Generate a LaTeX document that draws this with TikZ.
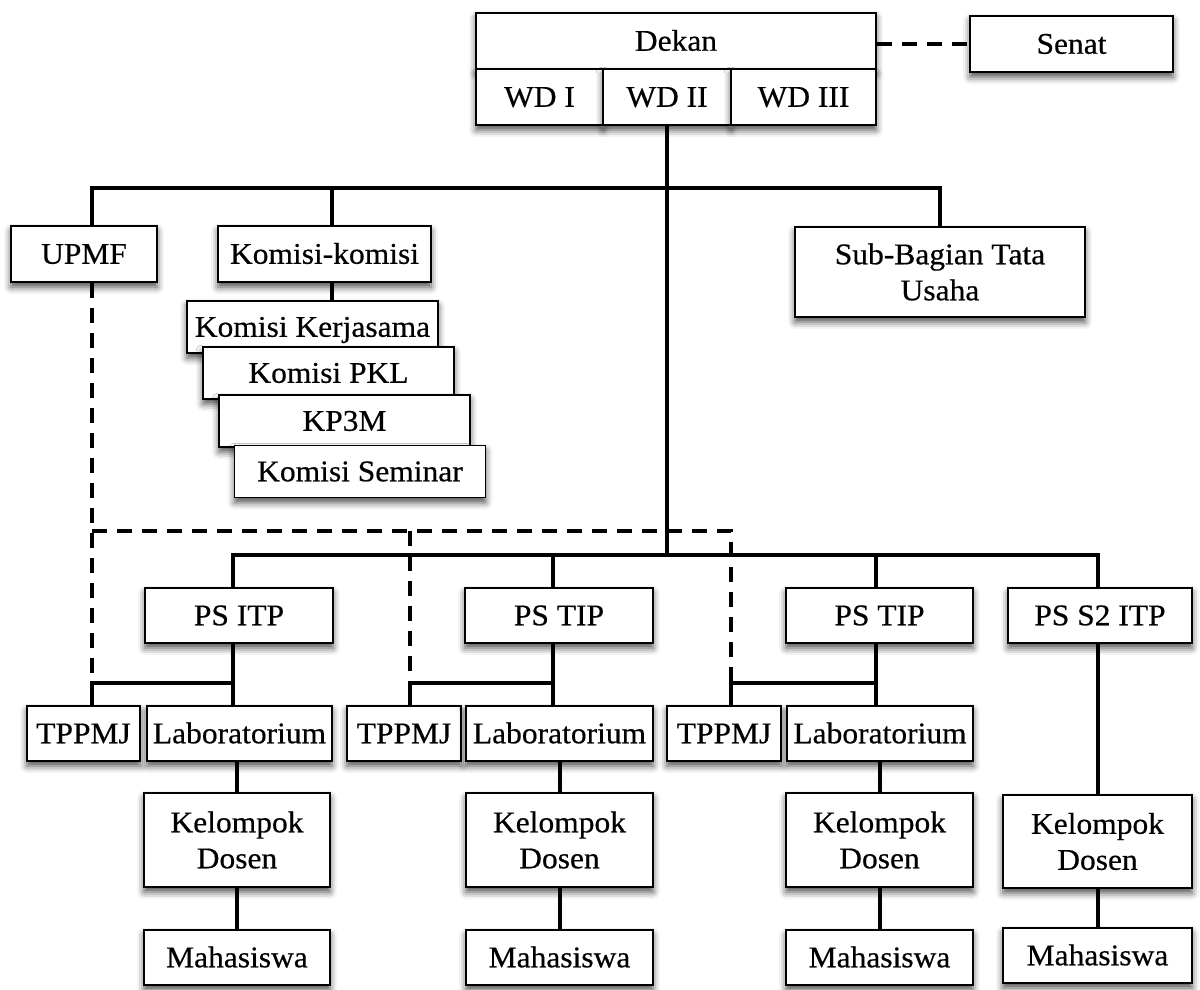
\documentclass[tikz,border=0pt]{standalone}
\usepackage{fontspec}
\setmainfont{Liberation Serif}[FakeStretch=1.05,FakeBold=0.5]
\usetikzlibrary{shadows.blur}
\begin{document}
\begin{tikzpicture}[x=1pt,y=-1pt,
  box/.style={draw, line width=1.8pt, fill=white, inner sep=0pt,
    blur shadow={shadow xshift=0pt, shadow yshift=-5pt, shadow blur radius=7pt, shadow opacity=70},
    font=\fontsize{30}{36}\selectfont, align=center},
  one/.style={text height=19.5pt, text depth=0pt},
  conn/.style={line width=4pt, line join=miter},
  dsh/.style={line width=4pt, dash pattern=on 15pt off 10pt},
]
\useasboundingbox (0,0) rectangle (1200,990);

% top
\node[box,one,minimum width=400pt,minimum height=56pt] (dekan) at (676,41) {Dekan};
\node[box,one,minimum width=127pt,minimum height=56pt] (wd1) at (539.5,97) {WD I};
\node[box,one,minimum width=128pt,minimum height=56pt] (wd2) at (667,97) {WD II};
\node[box,one,minimum width=145pt,minimum height=56pt] (wd3) at (803.5,97) {WD III};
\node[box,one,minimum width=203pt,minimum height=56pt] (senat) at (1071.5,44) {Senat};

% second level
\node[box,one,minimum width=146pt,minimum height=56pt] (upmf) at (84,254) {UPMF};
\node[box,one,minimum width=213pt,minimum height=56pt] (komisi) at (324.5,254) {Komisi-komisi};
\node[box,minimum width=290pt,minimum height=90pt] (subbag) at (940,272) {Sub-Bagian Tata\\Usaha};

% komisi stack
\node[box,one,minimum width=251pt,minimum height=52pt] (kk1) at (312.5,327) {Komisi Kerjasama};
\node[box,one,minimum width=251pt,minimum height=52pt] (kk2) at (328.5,373) {Komisi PKL};
\node[box,one,minimum width=251pt,minimum height=52pt] (kk3) at (344.5,421) {KP3M};
\node[box,one,minimum width=251pt,minimum height=52pt] (kk4) at (360,471.5) {Komisi Seminar};

% PS row
\node[box,one,minimum width=188pt,minimum height=55pt] (psitp) at (239,615.5) {PS ITP};
\node[box,one,minimum width=188pt,minimum height=55pt] (pstip1) at (559,615.5) {PS TIP};
\node[box,one,minimum width=187pt,minimum height=55pt] (pstip2) at (879.5,615.5) {PS TIP};
\node[box,one,minimum width=184pt,minimum height=55pt] (pss2) at (1100,615.5) {PS S2 ITP};

% TPPMJ / Lab row
\node[box,one,minimum width=113pt,minimum height=55pt] (tp1) at (83.5,733.5) {TPPMJ};
\node[box,one,minimum width=185pt,minimum height=55pt] (lab1) at (239.5,733.5) {Laboratorium};
\node[box,one,minimum width=114pt,minimum height=55pt] (tp2) at (404,733.5) {TPPMJ};
\node[box,one,minimum width=187pt,minimum height=55pt] (lab2) at (559.5,733.5) {Laboratorium};
\node[box,one,minimum width=114pt,minimum height=55pt] (tp3) at (724,733.5) {TPPMJ};
\node[box,one,minimum width=186pt,minimum height=55pt] (lab3) at (880,733.5) {Laboratorium};

% Kelompok Dosen
\node[box,minimum width=186pt,minimum height=94pt] (kd1) at (237,840) {Kelompok\\Dosen};
\node[box,minimum width=187pt,minimum height=94pt] (kd2) at (559.5,840) {Kelompok\\Dosen};
\node[box,minimum width=187pt,minimum height=94pt] (kd3) at (879.5,840) {Kelompok\\Dosen};
\node[box,minimum width=189pt,minimum height=93pt] (kd4) at (1097.5,841.5) {Kelompok\\Dosen};

% Mahasiswa
\node[box,one,minimum width=186pt,minimum height=55pt] (m1) at (237,957.5) {Mahasiswa};
\node[box,one,minimum width=187pt,minimum height=55pt] (m2) at (559.5,957.5) {Mahasiswa};
\node[box,one,minimum width=187pt,minimum height=55pt] (m3) at (879.5,957.5) {Mahasiswa};
\node[box,one,minimum width=189pt,minimum height=55pt] (m4) at (1097.5,955.5) {Mahasiswa};

% helper coordinates
\coordinate (tb) at (0,188);
\coordinate (pb) at (0,555);
\coordinate (sb) at (0,683);
\coordinate (db) at (0,531);
\coordinate (xA) at (92,0);
\coordinate (xB) at (410,0);
\coordinate (xC) at (731,0);
\coordinate (x1) at (233,0);
\coordinate (x2) at (553,0);
\coordinate (x3) at (876,0);
\coordinate (x4) at (1098,0);
\coordinate (xk) at (332,0);

% connectors
\draw[dsh] (dekan.east |- senat.west) -- (senat.west);
\draw[conn] (upmf.north -| xA) |- (tb -| subbag.north) -- (subbag.north);
\draw[conn] (komisi.north -| xk) -- (tb -| xk);
\draw[conn] (wd2.south) -- (pb -| wd2.south);
\draw[conn] (komisi.south -| xk) -- (kk1.north -| xk);

\draw[conn] (psitp.north -| x1) |- (pb -| x4) -- (pss2.north -| x4);
\draw[conn] (pstip1.north -| x2) -- (pb -| x2);
\draw[conn] (pstip2.north -| x3) -- (pb -| x3);

\draw[conn] (psitp.south -| x1) -- (lab1.north -| x1);
\draw[conn] (pstip1.south -| x2) -- (lab2.north -| x2);
\draw[conn] (pstip2.south -| x3) -- (lab3.north -| x3);
\draw[conn] (tp1.north -| xA) |- (sb -| x1);
\draw[conn] (tp2.north -| xB) |- (sb -| x2);
\draw[conn] (tp3.north -| xC) |- (sb -| x3);
\draw[conn] (pss2.south -| x4) -- (kd4.north -| x4);

\draw[conn] (lab1.south -| kd1.north) -- (kd1.north);
\draw[conn] (lab2.south -| kd2.north) -- (kd2.north);
\draw[conn] (lab3.south -| kd3.north) -- (kd3.north);
\draw[conn] (kd1.south) -- (m1.north);
\draw[conn] (kd2.south) -- (m2.north);
\draw[conn] (kd3.south) -- (m3.north);
\draw[conn] (kd4.south) -- (m4.north);

\draw[dsh] (upmf.south -| xA) -- (sb -| xA);
\draw[dsh] (db -| xA) -| (sb -| xC);
\draw[dsh] (db -| xB) -- (sb -| xB);
\end{tikzpicture}
\end{document}
